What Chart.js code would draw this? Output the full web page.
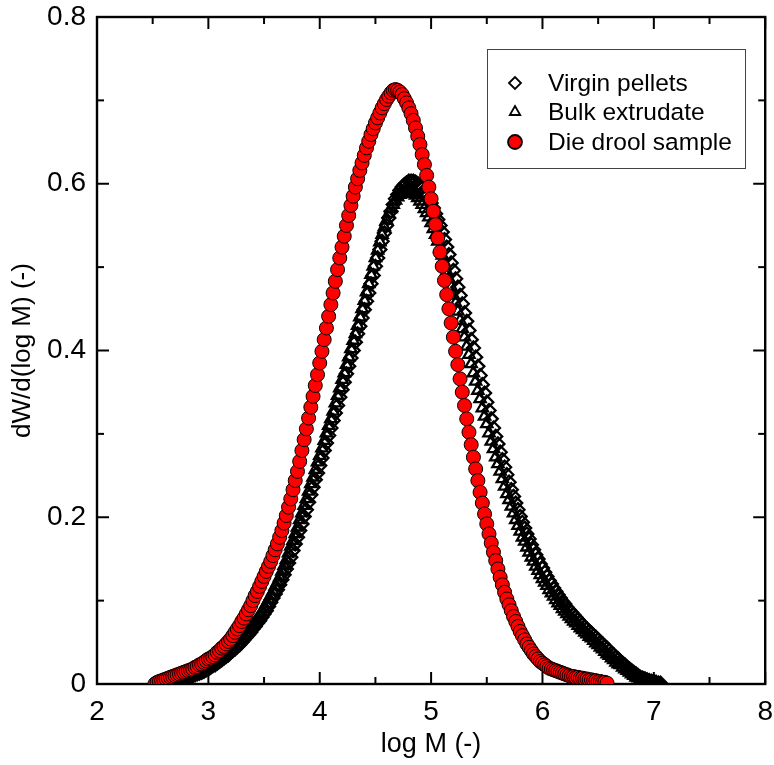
<!DOCTYPE html>
<html>
<head>
<meta charset="utf-8">
<title>Molecular weight distribution</title>
<script src="https://cdn.jsdelivr.net/npm/chart.js@4.4.1/dist/chart.umd.min.js"></script>
<style>
  html, body { margin: 0; padding: 0; background: #fff; }
  canvas { display: block; }
</style>
</head>
<body>
<canvas id="mwd" width="774" height="765"></canvas>
<script>
/* ─── Data ───────────────────────────────────────────────────────────────── */
// log M grid shared by all three samples
const logM = [
  2.52, 2.54, 2.56, 2.58, 2.60, 2.62, 2.64, 2.66, 2.68, 2.70,
  2.72, 2.74, 2.76, 2.78, 2.80, 2.82, 2.84, 2.86, 2.88, 2.90,
  2.92, 2.94, 2.96, 2.98, 3.00, 3.02, 3.04, 3.06, 3.08, 3.10,
  3.12, 3.14, 3.16, 3.18, 3.20, 3.22, 3.24, 3.26, 3.28, 3.30,
  3.32, 3.34, 3.36, 3.38, 3.40, 3.42, 3.44, 3.46, 3.48, 3.50,
  3.52, 3.54, 3.56, 3.58, 3.60, 3.62, 3.64, 3.66, 3.68, 3.70,
  3.72, 3.74, 3.76, 3.78, 3.80, 3.82, 3.84, 3.86, 3.88, 3.90,
  3.92, 3.94, 3.96, 3.98, 4.00, 4.02, 4.04, 4.06, 4.08, 4.10,
  4.12, 4.14, 4.16, 4.18, 4.20, 4.22, 4.24, 4.26, 4.28, 4.30,
  4.32, 4.34, 4.36, 4.38, 4.40, 4.42, 4.44, 4.46, 4.48, 4.50,
  4.52, 4.54, 4.56, 4.58, 4.60, 4.62, 4.64, 4.66, 4.68, 4.70,
  4.72, 4.74, 4.76, 4.78, 4.80, 4.82, 4.84, 4.86, 4.88, 4.90,
  4.92, 4.94, 4.96, 4.98, 5.00, 5.02, 5.04, 5.06, 5.08, 5.10,
  5.12, 5.14, 5.16, 5.18, 5.20, 5.22, 5.24, 5.26, 5.28, 5.30,
  5.32, 5.34, 5.36, 5.38, 5.40, 5.42, 5.44, 5.46, 5.48, 5.50,
  5.52, 5.54, 5.56, 5.58, 5.60, 5.62, 5.64, 5.66, 5.68, 5.70,
  5.72, 5.74, 5.76, 5.78, 5.80, 5.82, 5.84, 5.86, 5.88, 5.90,
  5.92, 5.94, 5.96, 5.98, 6.00, 6.02, 6.04, 6.06, 6.08, 6.10,
  6.12, 6.14, 6.16, 6.18, 6.20, 6.22, 6.24, 6.26, 6.28, 6.30,
  6.32, 6.34, 6.36, 6.38, 6.40, 6.42, 6.44, 6.46, 6.48, 6.50,
  6.52, 6.54, 6.56, 6.58, 6.60, 6.62, 6.64, 6.66, 6.68, 6.70,
  6.72, 6.74, 6.76, 6.78, 6.80, 6.82, 6.84, 6.86, 6.88, 6.90,
  6.92, 6.94, 6.96, 6.98, 7.00, 7.02, 7.04, 7.06
];

// dW/d(log M), same index as logM (null = no measurement)
const virginPellets = [
  null, null, null, null,
  0.000, 0.000, 0.001, 0.002, 0.002, 0.003, 0.004, 0.005, 0.006, 0.006,
  0.007, 0.008, 0.009, 0.010, 0.011, 0.012, 0.013, 0.014, 0.015, 0.017,
  0.018, 0.020, 0.022, 0.023, 0.025, 0.027, 0.029, 0.031, 0.033, 0.035,
  0.038, 0.040, 0.042, 0.045, 0.047, 0.050, 0.053, 0.056, 0.059, 0.062,
  0.066, 0.069, 0.073, 0.076, 0.080, 0.084, 0.088, 0.093, 0.098, 0.103,
  0.108, 0.113, 0.119, 0.125, 0.131, 0.138, 0.145, 0.152, 0.160, 0.168,
  0.176, 0.184, 0.192, 0.201, 0.209, 0.218, 0.227, 0.236, 0.245, 0.253,
  0.262, 0.271, 0.280, 0.289, 0.298, 0.307, 0.316, 0.325, 0.334, 0.344,
  0.353, 0.362, 0.372, 0.381, 0.391, 0.400, 0.410, 0.420, 0.429, 0.439,
  0.449, 0.459, 0.469, 0.480, 0.490, 0.501, 0.511, 0.521, 0.531, 0.541,
  0.550, 0.559, 0.567, 0.575, 0.582, 0.587, 0.592, 0.596, 0.599, 0.601,
  0.603, 0.603, 0.603, 0.602, 0.600, 0.598, 0.595, 0.591, 0.587, 0.582,
  0.577, 0.571, 0.564, 0.557, 0.550, 0.542, 0.533, 0.524, 0.515, 0.505,
  0.496, 0.486, 0.476, 0.466, 0.456, 0.445, 0.435, 0.424, 0.413, 0.403,
  0.392, 0.381, 0.370, 0.359, 0.349, 0.338, 0.328, 0.318, 0.307, 0.297,
  0.288, 0.278, 0.269, 0.260, 0.251, 0.242, 0.233, 0.225, 0.217, 0.209,
  0.201, 0.194, 0.187, 0.180, 0.174, 0.167, 0.161, 0.155, 0.150, 0.144,
  0.139, 0.134, 0.129, 0.124, 0.120, 0.115, 0.111, 0.107, 0.103, 0.099,
  0.096, 0.092, 0.089, 0.086, 0.083, 0.080, 0.077, 0.074, 0.071, 0.068,
  0.066, 0.063, 0.061, 0.058, 0.056, 0.053, 0.050, 0.048, 0.045, 0.043,
  0.040, 0.037, 0.035, 0.032, 0.030, 0.027, 0.025, 0.023, 0.020, 0.018,
  0.016, 0.014, 0.012, 0.010, 0.008, 0.007, 0.006, 0.005, 0.004, 0.003,
  0.003, 0.002, 0.001, 0.001
];

const bulkExtrudate = [
  null, null, null, null,
  0.001, 0.002, 0.002, 0.003, 0.004, 0.005, 0.006, 0.006, 0.007, 0.008,
  0.009, 0.010, 0.011, 0.012, 0.013, 0.014, 0.015, 0.017, 0.018, 0.020,
  0.022, 0.023, 0.024, 0.026, 0.028, 0.030, 0.032, 0.034, 0.037, 0.039,
  0.041, 0.044, 0.046, 0.049, 0.052, 0.055, 0.058, 0.061, 0.065, 0.068,
  0.072, 0.074, 0.078, 0.082, 0.086, 0.091, 0.096, 0.101, 0.106, 0.111,
  0.117, 0.122, 0.128, 0.135, 0.142, 0.149, 0.157, 0.165, 0.172, 0.180,
  0.188, 0.197, 0.205, 0.214, 0.222, 0.231, 0.240, 0.248, 0.257, 0.266,
  0.274, 0.283, 0.292, 0.301, 0.310, 0.318, 0.327, 0.337, 0.346, 0.355,
  0.365, 0.373, 0.383, 0.392, 0.402, 0.412, 0.420, 0.430, 0.440, 0.450,
  0.460, 0.470, 0.480, 0.491, 0.501, 0.511, 0.520, 0.530, 0.539, 0.548,
  0.556, 0.564, 0.570, 0.575, 0.580, 0.584, 0.587, 0.589, 0.591, 0.591,
  0.591, 0.590, 0.588, 0.586, 0.583, 0.579, 0.575, 0.570, 0.565, 0.560,
  0.553, 0.546, 0.539, 0.531, 0.522, 0.514, 0.505, 0.495, 0.486, 0.476,
  0.466, 0.457, 0.447, 0.436, 0.426, 0.416, 0.405, 0.395, 0.384, 0.373,
  0.363, 0.352, 0.342, 0.331, 0.321, 0.312, 0.301, 0.291, 0.282, 0.272,
  0.264, 0.255, 0.246, 0.237, 0.228, 0.221, 0.213, 0.205, 0.197, 0.190,
  0.183, 0.176, 0.171, 0.164, 0.158, 0.152, 0.147, 0.141, 0.136, 0.131,
  0.126, 0.122, 0.118, 0.113, 0.109, 0.105, 0.101, 0.097, 0.094, 0.090,
  0.087, 0.084, 0.081, 0.078, 0.075, 0.073, 0.070, 0.067, 0.065, 0.062,
  0.060, 0.057, 0.055, 0.052, 0.049, 0.047, 0.044, 0.042, 0.039, 0.036,
  0.034, 0.031, 0.029, 0.026, 0.024, 0.023, 0.020, 0.018, 0.016, 0.014,
  0.012, 0.010, 0.008, 0.007, 0.006, 0.005, 0.004, 0.003, 0.003, 0.002,
  0.001, 0.001, 0.000
];

const dieDrool = [
  0.000, 0.002, 0.003, 0.004, 0.005, 0.006, 0.007, 0.008, 0.009, 0.010,
  0.011, 0.012, 0.013, 0.014, 0.015, 0.016, 0.017, 0.018, 0.020, 0.021,
  0.023, 0.024, 0.026, 0.028, 0.030, 0.031, 0.033, 0.035, 0.038, 0.040,
  0.043, 0.045, 0.048, 0.051, 0.054, 0.058, 0.062, 0.066, 0.070, 0.075,
  0.079, 0.084, 0.089, 0.094, 0.100, 0.106, 0.111, 0.117, 0.123, 0.129,
  0.135, 0.141, 0.147, 0.154, 0.161, 0.168, 0.176, 0.184, 0.193, 0.202,
  0.212, 0.222, 0.233, 0.244, 0.255, 0.267, 0.280, 0.293, 0.306, 0.319,
  0.332, 0.345, 0.358, 0.371, 0.385, 0.399, 0.413, 0.427, 0.441, 0.455,
  0.469, 0.483, 0.497, 0.511, 0.524, 0.537, 0.550, 0.562, 0.574, 0.585,
  0.596, 0.606, 0.616, 0.625, 0.634, 0.643, 0.651, 0.659, 0.666, 0.673,
  0.679, 0.685, 0.691, 0.696, 0.701, 0.705, 0.709, 0.712, 0.713, 0.712,
  0.710, 0.707, 0.702, 0.697, 0.691, 0.684, 0.676, 0.667, 0.657, 0.647,
  0.635, 0.623, 0.610, 0.596, 0.582, 0.567, 0.551, 0.535, 0.518, 0.501,
  0.484, 0.467, 0.450, 0.433, 0.416, 0.399, 0.383, 0.366, 0.350, 0.334,
  0.318, 0.302, 0.287, 0.272, 0.258, 0.244, 0.230, 0.217, 0.204, 0.192,
  0.180, 0.169, 0.158, 0.148, 0.138, 0.128, 0.119, 0.110, 0.102, 0.095,
  0.088, 0.081, 0.075, 0.069, 0.063, 0.058, 0.053, 0.048, 0.044, 0.040,
  0.036, 0.033, 0.030, 0.027, 0.025, 0.023, 0.021, 0.019, 0.018, 0.017,
  0.016, 0.015, 0.014, 0.013, 0.012, 0.011, 0.010, 0.009, 0.009, 0.008,
  0.008, 0.007, 0.007, 0.006, 0.006, 0.005, 0.005, 0.004, 0.004, 0.003,
  0.003, 0.002, 0.002, 0.001
];

const seriesLabels = ['Virgin pellets', 'Bulk extrudate', 'Die drool sample'];

const xMajorTicks = [2, 3, 4, 5, 6, 7, 8];
const xMinorTicks = [2.5, 3.5, 4.5, 5.5, 6.5, 7.5];
const yMajorTicks = [0, 0.2, 0.4, 0.6, 0.8];
const yMinorTicks = [0.1, 0.3, 0.5, 0.7];

/* ─── Helpers ────────────────────────────────────────────────────────────── */
function toPoints(values) {
  return values
    .map((y, i) => (y == null ? null : { x: logM[i], y }))
    .filter(Boolean);
}

// fixed axis box, no extra room for label overhang
function fixBox(size) {
  return s => {
    if (s.isHorizontal()) s.height = size; else s.width = size;
    s.paddingTop = s.paddingBottom = s.paddingLeft = s.paddingRight = 0;
  };
}

const FONT = '"Liberation Sans", Arial, Helvetica, sans-serif';

/* ─── Plugins ────────────────────────────────────────────────────────────── */
// box around the plot with inward ticks on all four sides
const frameTicks = {
  id: 'frameTicks',
  beforeDatasetsDraw(chart) {
    const { ctx, chartArea: a, scales: { x, y } } = chart;
    const seg = (x1, y1, x2, y2) => {
      ctx.beginPath(); ctx.moveTo(x1, y1); ctx.lineTo(x2, y2); ctx.stroke();
    };
    ctx.save();
    ctx.strokeStyle = '#000';
    ctx.lineWidth = 2;
    ctx.lineCap = 'butt';
    const xTick = (v, len) => {
      const px = x.getPixelForValue(v);
      seg(px, a.bottom, px, a.bottom - len);
      seg(px, a.top, px, a.top + len);
    };
    const yTick = (v, len) => {
      const py = y.getPixelForValue(v);
      seg(a.left, py, a.left + len, py);
      seg(a.right, py, a.right - len, py);
    };
    xMajorTicks.forEach(v => xTick(v, 12));
    xMinorTicks.forEach(v => xTick(v, 7));
    yMajorTicks.forEach(v => yTick(v, 12));
    yMinorTicks.forEach(v => yTick(v, 7));
    ctx.lineWidth = 2.4;
    ctx.strokeRect(a.left, a.top, a.right - a.left, a.bottom - a.top);
    ctx.restore();
  }
};

// framed legend in the upper right
const boxLegend = {
  id: 'boxLegend',
  afterDraw(chart) {
    const { ctx } = chart;
    const box = { left: 487, top: 49, right: 745, bottom: 168 };
    const rows = [83, 112, 142];
    ctx.save();
    ctx.fillStyle = '#fff';
    ctx.fillRect(box.left, box.top, box.right - box.left, box.bottom - box.top);
    ctx.strokeStyle = '#444';
    ctx.lineWidth = 1;
    ctx.strokeRect(box.left + 0.5, box.top + 0.5, box.right - box.left, box.bottom - box.top);

    seriesLabels.forEach((label, i) => {
      const ds = chart.data.datasets.find(d => d.label === label);
      ctx.fillStyle = ds.backgroundColor;
      ctx.strokeStyle = ds.borderColor;
      ctx.lineWidth = 1.8;
      Chart.helpers.drawPoint(ctx, {
        pointStyle: ds.pointStyle,
        radius: ds.pointStyle === 'circle' ? 7 : 6,
        borderWidth: 1.8
      }, 515, rows[i]);
      ctx.font = `24.5px ${FONT}`;
      ctx.textBaseline = 'middle';
      ctx.textAlign = 'left';
      ctx.fillStyle = '#000';
      ctx.fillText(label, 548, rows[i] + 1);
    });
    ctx.restore();
  }
};

/* ─── Chart ──────────────────────────────────────────────────────────────── */
Chart.defaults.font.family = FONT;
Chart.defaults.color = '#000';

new Chart(document.getElementById('mwd'), {
  type: 'scatter',
  data: {
    datasets: [
      {
        label:           seriesLabels[0],
        data:            toPoints(virginPellets),
        pointStyle:      'rectRot',
        pointRadius:     6.5,
        backgroundColor: 'rgba(0,0,0,0)',
        borderColor:     '#000',
        borderWidth:     2.3,
        order:           3
      },
      {
        label:           seriesLabels[1],
        data:            toPoints(bulkExtrudate),
        pointStyle:      'triangle',
        pointRadius:     6.5,
        backgroundColor: 'rgba(0,0,0,0)',
        borderColor:     '#000',
        borderWidth:     2.3,
        order:           2
      },
      {
        label:           seriesLabels[2],
        data:            toPoints(dieDrool),
        pointStyle:      'circle',
        pointRadius:     7,
        backgroundColor: '#ff0000',
        borderColor:     '#000',
        borderWidth:     1,
        order:           1
      }
    ]
  },
  options: {
    responsive: false,
    devicePixelRatio: 1,
    animation: false,
    events: [],
    layout: { padding: { top: 17, right: 8, bottom: 0, left: 0 } },
    plugins: {
      legend:  { display: false },
      tooltip: { enabled: false }
    },
    scales: {
      x: {
        type: 'linear',
        min: 2,
        max: 8,
        afterFit: fixBox(81),
        grid:   { display: false, drawTicks: false },
        border: { display: false },
        ticks: {
          stepSize: 1,
          padding: 11,
          maxRotation: 0,
          font: { size: 28 }
        },
        title: {
          display: true,
          text: 'log M (-)',
          font: { size: 27 },
          padding: { top: 0, bottom: 4 }
        }
      },
      y: {
        type: 'linear',
        min: 0,
        max: 0.8,
        afterFit: fixBox(97),
        grid:   { display: false, drawTicks: false },
        border: { display: false },
        ticks: {
          stepSize: 0.2,
          padding: 11,
          font: { size: 28 },
          callback: v => (v === 0 ? '0' : v.toFixed(1))
        },
        title: {
          display: true,
          text: 'dW/d(log M) (-)',
          font: { size: 26 },
          padding: { top: 7, bottom: 0 }
        }
      }
    }
  },
  plugins: [frameTicks, boxLegend]
});
</script>
</body>
</html>
